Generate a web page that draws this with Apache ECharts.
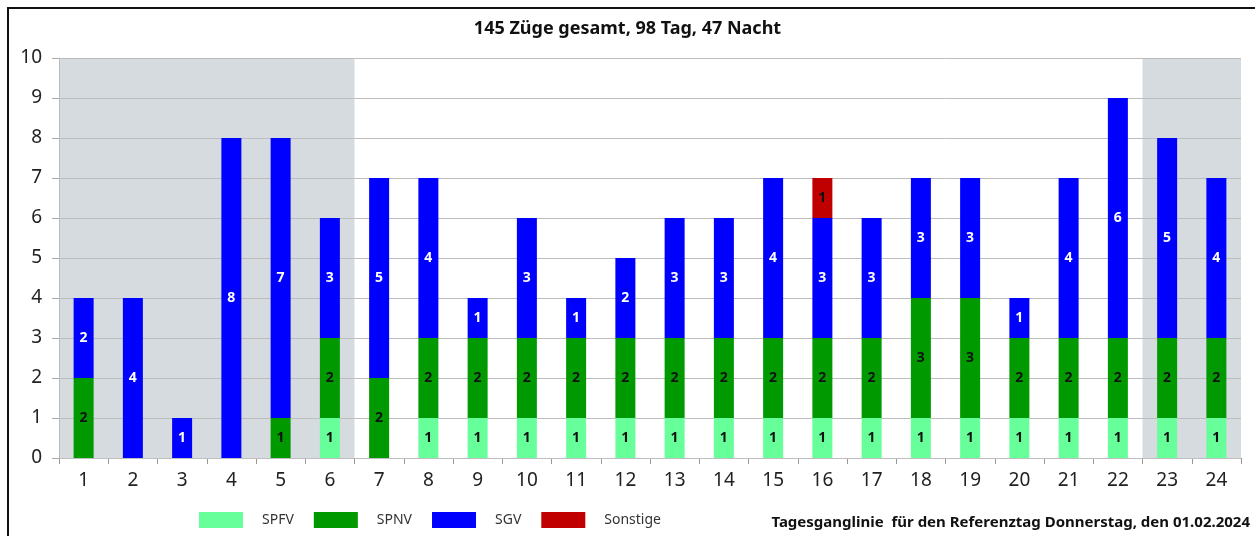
<!DOCTYPE html>
<html>
<head>
<meta charset="utf-8">
<script src="https://cdn.jsdelivr.net/npm/echarts@6/dist/echarts.min.js"></script>
<style>
  html, body { margin: 0; padding: 0; background: #fff; }
  #frame { position: absolute; left: 7px; top: 7px; width: 1260px; height: 540px; border-left: 2px solid #111; border-top: 2px solid #111; box-sizing: border-box; }
  #main { position: absolute; left: 0; top: 0; width: 1255px; height: 536px; }
</style>
</head>
<body>
<div id="frame"></div>
<div id="main"></div>
<script>
// Stunden
var hours = ['1','2','3','4','5','6','7','8','9','10','11','12','13','14','15','16','17','18','19','20','21','22','23','24'];
// Züge je Stunde
var spfv = [0,0,0,0,0,1,0,1,1,1,1,1,1,1,1,1,1,1,1,1,1,1,1,1];
var spnv = [2,0,0,0,1,2,2,2,2,2,2,2,2,2,2,2,2,3,3,2,2,2,2,2];
var sgv  = [2,4,1,8,7,3,5,4,1,3,1,2,3,3,4,3,3,3,3,1,4,6,5,4];
var sonstige = [0,0,0,0,0,0,0,0,0,0,0,0,0,0,0,1,0,0,0,0,0,0,0,0];
// Nachtzeiten (Stunden-Grenzen)
var nightRanges = [[0, 6], [22, 24]];

var fontFam = '"Noto Sans", "DejaVu Sans", sans-serif';

var myChart = echarts.init(document.getElementById('main'));

function barSeries(name, data, color, labelColor) {
    return {
        name: name,
        type: 'bar',
        stack: 'total',
        barWidth: 20,
        z: 2,
        itemStyle: { color: color },
        label: {
            show: true,
            position: 'inside',
            color: labelColor,
            fontWeight: 'bold',
            fontSize: 14,
            fontFamily: fontFam,
            formatter: function (p) { return p.value ? p.value : ''; }
        },
        data: data
    };
}

var options = {
    animation: false,
    title: [{
        text: '145 Züge gesamt, 98 Tag, 47 Nacht',
        left: 'center',
        top: 15,
        textStyle: { fontSize: 18, fontWeight: 'bold', color: '#111', fontFamily: fontFam }
    }, {
        text: 'Tagesganglinie  für den Referenztag Donnerstag, den 01.02.2024',
        right: 0,
        top: 510,
        textStyle: { fontSize: 15, fontWeight: 'bold', color: '#111', fontFamily: fontFam }
    }],
    legend: {
        data: ['SPFV', 'SPNV', 'SGV', 'Sonstige'],
        left: 194,
        top: 507,
        icon: 'rect',
        itemWidth: 44,
        itemHeight: 16,
        itemGap: 20,
        textStyle: { fontSize: 14, color: '#333', fontFamily: fontFam, padding: [0, 0, 0, 14] }
    },
    grid: { left: 59, right: 14, top: 58, bottom: 78 },
    xAxis: [{
        type: 'category',
        data: hours,
        axisLine: { lineStyle: { color: '#999' } },
        axisTick: { show: true, length: 6, lineStyle: { color: '#999' } },
        axisLabel: { fontSize: 19, color: '#222', margin: 13, fontFamily: fontFam }
    }, {
        type: 'value',
        min: 0,
        max: 24,
        show: false
    }],
    yAxis: {
        type: 'value',
        min: 0,
        max: 10,
        interval: 1,
        z: 1.5,
        axisLine: { show: true, lineStyle: { color: '#bbb' } },
        axisTick: { show: true, length: 7, lineStyle: { color: '#aaa' } },
        splitLine: { lineStyle: { color: '#bdbdbd' } },
        axisLabel: { fontSize: 19, color: '#222', margin: 17, fontFamily: fontFam }
    },
    series: [
        {
            type: 'line',
            xAxisIndex: 1,
            data: [],
            silent: true,
            z: 0,
            markArea: {
                silent: true,
                itemStyle: { color: '#d6dbdf' },
                data: nightRanges.map(function (r) { return [{ xAxis: r[0] }, { xAxis: r[1] }]; })
            }
        },
        barSeries('SPFV', spfv, '#66ff99', '#111'),
        barSeries('SPNV', spnv, '#009900', '#111'),
        barSeries('SGV', sgv, '#0000ff', '#fff'),
        barSeries('Sonstige', sonstige, '#c00000', '#111')
    ]
};
myChart.setOption(options);
</script>
</body>
</html>
